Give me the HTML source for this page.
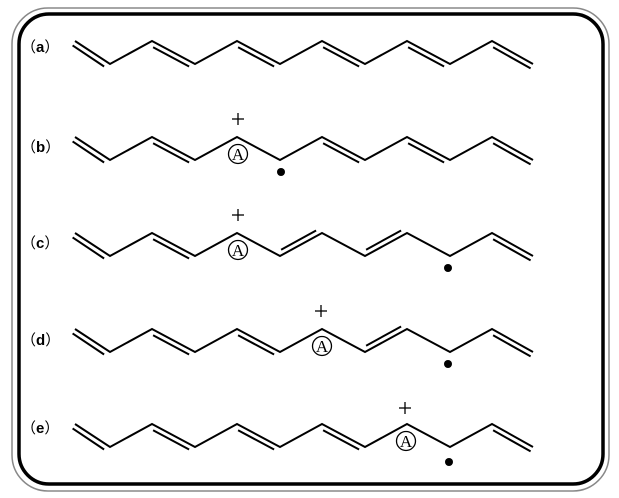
<!DOCTYPE html>
<html><head><meta charset="utf-8"><style>
html,body{margin:0;padding:0;background:#fff;}
svg{display:block;}
.lbl{font-family:"Liberation Sans","Noto Sans CJK SC",sans-serif;font-size:15px;}
.lbl tspan{font-weight:bold;}
.atom{font-family:"Liberation Serif",serif;font-size:17px;}
</style></head><body>
<svg width="619" height="498" viewBox="0 0 619 498" xmlns="http://www.w3.org/2000/svg">
<defs>
<g id="chain" fill="none" stroke="#000" stroke-width="2" stroke-linejoin="miter">
<polyline points="75,0 110,23 152,0 195,23 237,0 280,23 322,0 365,23 407,0 450,23 492,0 533,23"/>
</g>
</defs>
<rect x="12" y="8" width="597" height="483" rx="36" fill="none" stroke="#888" stroke-width="1.5"/>
<rect x="19" y="14" width="584" height="470" rx="30" fill="none" stroke="#000" stroke-width="3.5"/>

<g fill="#000">
<text class="lbl" x="21" y="52">（<tspan>a</tspan>）</text>
<text class="lbl" x="21" y="152">（<tspan>b</tspan>）</text>
<text class="lbl" x="21" y="248">（<tspan>c</tspan>）</text>
<text class="lbl" x="21" y="345">（<tspan>d</tspan>）</text>
<text class="lbl" x="21" y="433">（<tspan>e</tspan>）</text>
</g>

<!-- a -->
<g transform="translate(0,41)" stroke="#000" stroke-width="2" fill="none">
<use href="#chain"/>
<line x1="72.6" y1="4.4" x2="104.1" y2="25.5"/>
<line x1="153.1" y1="6.3" x2="189.1" y2="25.5"/>
<line x1="238.1" y1="6.3" x2="274.1" y2="25.5"/>
<line x1="323.1" y1="6.3" x2="359.1" y2="25.5"/>
<line x1="408.1" y1="6.3" x2="444.1" y2="25.5"/>
<line x1="493.1" y1="6.3" x2="530.6" y2="27.4"/>
</g>

<!-- b -->
<g transform="translate(0,137)">
<g stroke="#000" stroke-width="2" fill="none">
<use href="#chain"/>
<line x1="72.6" y1="4.4" x2="104.1" y2="25.5"/>
<line x1="153.1" y1="6.3" x2="189.1" y2="25.5"/>
<line x1="323.1" y1="6.3" x2="359.1" y2="25.5"/>
<line x1="408.1" y1="6.3" x2="444.1" y2="25.5"/>
<line x1="493.1" y1="6.3" x2="530.6" y2="27.4"/>
</g>
<g stroke="#000" stroke-width="1.3" fill="none">
<line x1="232" y1="-18" x2="244" y2="-18"/><line x1="238" y1="-24" x2="238" y2="-12"/>
<circle cx="238" cy="17" r="9.5"/>
</g>
<text class="atom" x="238" y="23" text-anchor="middle">A</text>
<circle cx="281" cy="35" r="4" fill="#000"/>
</g>

<!-- c -->
<g transform="translate(0,233)">
<g stroke="#000" stroke-width="2" fill="none">
<use href="#chain"/>
<line x1="72.6" y1="4.4" x2="104.1" y2="25.5"/>
<line x1="153.1" y1="6.3" x2="189.1" y2="25.5"/>
<line x1="281.1" y1="16.7" x2="316.1" y2="-2.5"/>
<line x1="366.1" y1="16.7" x2="401.1" y2="-2.5"/>
<line x1="493.1" y1="6.3" x2="530.6" y2="27.4"/>
</g>
<g stroke="#000" stroke-width="1.3" fill="none">
<line x1="232" y1="-18" x2="244" y2="-18"/><line x1="238" y1="-24" x2="238" y2="-12"/>
<circle cx="238" cy="17" r="9.5"/>
</g>
<text class="atom" x="238" y="23" text-anchor="middle">A</text>
<circle cx="448" cy="35" r="4" fill="#000"/>
</g>

<!-- d -->
<g transform="translate(0,329)">
<g stroke="#000" stroke-width="2" fill="none">
<use href="#chain"/>
<line x1="72.6" y1="4.4" x2="104.1" y2="25.5"/>
<line x1="153.1" y1="6.3" x2="189.1" y2="25.5"/>
<line x1="238.1" y1="6.3" x2="274.1" y2="25.5"/>
<line x1="366.1" y1="16.7" x2="401.1" y2="-2.5"/>
<line x1="493.1" y1="6.3" x2="530.6" y2="27.4"/>
</g>
<g stroke="#000" stroke-width="1.3" fill="none">
<line x1="315" y1="-18" x2="327" y2="-18"/><line x1="321" y1="-24" x2="321" y2="-12"/>
<circle cx="322" cy="17" r="9.5"/>
</g>
<text class="atom" x="322" y="23" text-anchor="middle">A</text>
<circle cx="448" cy="35" r="4" fill="#000"/>
</g>

<!-- e -->
<g transform="translate(0,424)">
<g stroke="#000" stroke-width="2" fill="none">
<use href="#chain"/>
<line x1="72.6" y1="4.4" x2="104.1" y2="25.5"/>
<line x1="153.1" y1="6.3" x2="189.1" y2="25.5"/>
<line x1="238.1" y1="6.3" x2="274.1" y2="25.5"/>
<line x1="323.1" y1="6.3" x2="359.1" y2="25.5"/>
<line x1="493.1" y1="6.3" x2="530.6" y2="27.4"/>
</g>
<g stroke="#000" stroke-width="1.3" fill="none">
<line x1="399" y1="-16" x2="411" y2="-16"/><line x1="405" y1="-22" x2="405" y2="-10"/>
<circle cx="406" cy="17" r="9.5"/>
</g>
<text class="atom" x="406" y="23" text-anchor="middle">A</text>
<circle cx="449" cy="38" r="4" fill="#000"/>
</g>
</svg>
</body></html>
